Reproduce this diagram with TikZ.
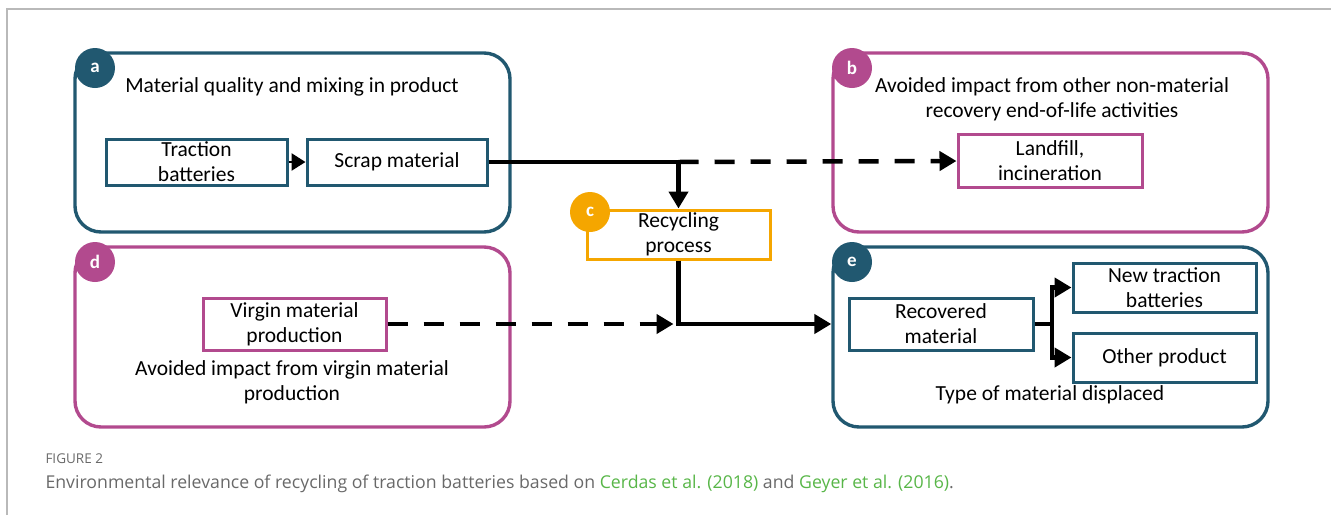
\documentclass[tikz,border=0pt]{standalone}
\usepackage{fontspec}
\setmainfont{Carlito}
\newfontfamily\capfont{Open Sans}
\usetikzlibrary{arrows.meta}
\definecolor{tealc}{RGB}{33,88,112}
\definecolor{magc}{RGB}{178,74,142}
\definecolor{orac}{RGB}{245,166,0}
\definecolor{citec}{RGB}{88,182,72}
\definecolor{capgrey}{RGB}{105,105,105}
\definecolor{framegrey}{RGB}{185,185,185}
\begin{document}
\begin{tikzpicture}[x=1pt,y=-1pt,
  panel/.style={draw,line width=3.4pt,rounded corners=26pt,minimum width=435pt,inner sep=0pt},
  badge/.style={circle,fill=#1,minimum size=40pt,inner sep=0pt,text=white,font=\fontsize{19}{19}\selectfont\bfseries},
  ibox/.style={draw=#1,line width=3pt,inner sep=0pt,align=center,font=\fontsize{21.5}{25}\selectfont},
  label/.style={align=center,font=\fontsize{21.5}{25}\selectfont},
  solidarrow/.style={line width=4.5pt,-{Triangle[length=17pt,width=19pt]}},
  dasharrow/.style={line width=4.5pt,dash pattern=on 20pt off 16pt,-{Triangle[length=17pt,width=19pt]}},
  thick4/.style={line width=4.5pt}]
\useasboundingbox (0,0) rectangle (1331,515);
\draw[framegrey,line width=1.2pt] (7,515) -- (7,9) -- (1331,9);

% panels
\node[panel,draw=tealc,minimum height=179pt] (A) at (292.5,142.5) {};
\node[panel,draw=magc,minimum height=179pt] (B) at (1050.5,142.5) {};
\node[panel,draw=magc,minimum height=180pt] (D) at (292.5,337) {};
\node[panel,draw=tealc,minimum height=180pt] (E) at (1050.5,337) {};

% badges
\node[badge=tealc] (ba) at (95,68) {a};
\node[badge=magc] (bb) at (852,68) {b};
\node[badge=magc] (bd) at (95,262) {d};
\node[badge=tealc] (be) at (852,262) {e};

% titles
\node[label] (ta) at (292,87) {Material quality and mixing in product};
\node[label] (tb) at (1052,99.5) {Avoided impact from other non-material\\recovery end-of-life activities};
\node[label] (td) at (292,382) {Avoided impact from virgin material\\production};
\node[label] (te) at (1050,395) {Type of material displaced};

% inner boxes
\node[ibox=tealc,minimum width=181pt,minimum height=46pt] (trac) at (196.5,162) {Traction\\batteries};
\node[ibox=tealc,minimum width=180pt,minimum height=46pt] (scrap) at (397,162) {Scrap material};
\node[ibox=magc,minimum width=184pt,minimum height=53pt] (land) at (1050,161) {Landfill,\\incineration};
\node[ibox=magc,minimum width=183pt,minimum height=52pt] (virg) at (294.5,324) {Virgin material\\production};
\node[ibox=tealc,minimum width=184pt,minimum height=52pt] (recov) at (941,324) {Recovered\\material};
\node[ibox=tealc,minimum width=183pt,minimum height=49pt] (newtr) at (1164.5,287.5) {New traction\\batteries};
\node[ibox=tealc,minimum width=183pt,minimum height=49pt] (other) at (1164.5,357.5) {Other product};
\node[ibox=orac,minimum width=183pt,minimum height=49pt] (recyc) at (678.5,234.5) {Recycling\\process};
\node[badge=orac] (bc) at (590,212) {c};

% connectors
\draw[line width=2.6pt,-{Triangle[length=14pt,width=17pt]}] (trac.east) -- (scrap.west);
\coordinate (j1) at (recyc.north |- scrap.east);
\draw[solidarrow] (scrap.east) -| (recyc.north);
\draw[dasharrow] (j1) -- (land.west);
\coordinate (eIn) at (E.west |- recov.west);
\draw[solidarrow] (recyc.south) |- (eIn);
\coordinate (j2) at (recyc.south |- virg.east);
\draw[dasharrow,shorten >=5pt] (virg.east) -- (j2);
\coordinate (br) at (1052,324);
\draw[thick4] (recov.east) -- (br);
\draw[solidarrow] (br) |- (newtr.west);
\draw[solidarrow] (br) |- (other.west);

% caption
\node[anchor=west,text=capgrey,font=\capfont\fontsize{13.5}{15}\selectfont] (fig) at (42,459) {FIGURE 2};
\node[anchor=west,text=capgrey,font=\capfont\fontsize{17.7}{20}\selectfont] (cap) at (42,484) {Environmental relevance of recycling of traction batteries based on \textcolor{citec}{Cerdas et al. (2018)} and \textcolor{citec}{Geyer et al. (2016)}.};
\end{tikzpicture}
\end{document}
